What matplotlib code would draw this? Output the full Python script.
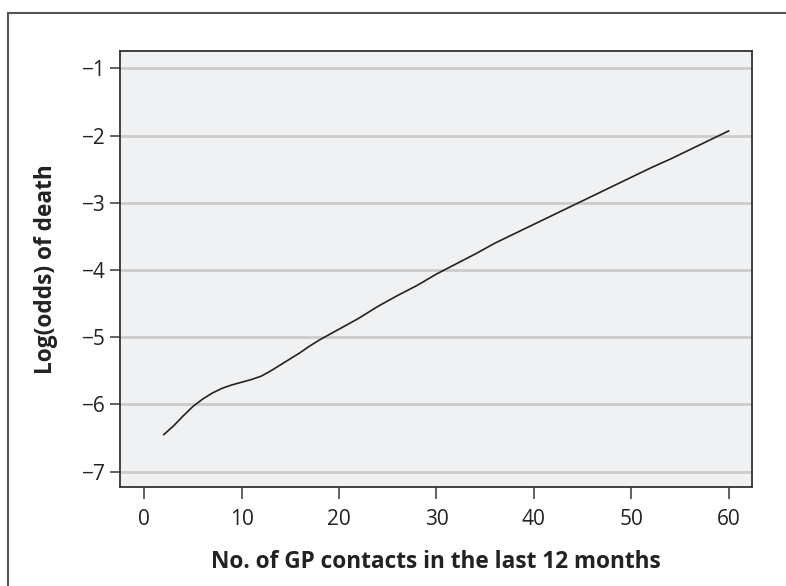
import matplotlib

matplotlib.use("Agg")
import matplotlib.pyplot as plt
from matplotlib.lines import Line2D

# Values
gp_contacts = [2, 3, 4, 5, 6, 7, 8, 9, 10, 11, 12, 13, 14, 15, 16, 17, 18, 19, 20,
               22, 24, 26, 28, 30, 32, 34, 36, 38, 40, 42, 44, 46, 48, 50, 52,
               54, 56, 58, 60]
log_odds = [-6.45, -6.32, -6.17, -6.03, -5.92, -5.83, -5.76, -5.71, -5.67, -5.63,
            -5.58, -5.50, -5.41, -5.32, -5.23, -5.13, -5.04, -4.96, -4.88,
            -4.72, -4.54, -4.38, -4.23, -4.06, -3.91, -3.76, -3.60, -3.46,
            -3.32, -3.18, -3.04, -2.90, -2.76, -2.62, -2.48, -2.35, -2.21,
            -2.07, -1.93]
x_ticks = [0, 10, 20, 30, 40, 50, 60]
y_ticks = [-7, -6, -5, -4, -3, -2, -1]

plt.rcParams["font.family"] = ["Open Sans", "DejaVu Sans"]

fig = plt.figure(figsize=(7.86, 5.86), dpi=100)
ax = fig.add_axes([120 / 786, 1 - 487 / 586, 632 / 786, 436 / 586])

ax.set_facecolor("#f0f1f3")
ax.plot(gp_contacts, log_odds, color="#222222", linewidth=1.2, zorder=3)

ax.set_xlim(-2.5, 62.4)
ax.set_ylim(-7.23, -0.74)
ax.set_xticks(x_ticks)
ax.set_yticks(y_ticks)
ax.set_yticklabels([f"\u2212{abs(v)}" for v in y_ticks])

ax.grid(axis="y", color="#cbcbcb", linewidth=2.0, zorder=1)
ax.set_axisbelow(True)

for spine in ax.spines.values():
    spine.set_color("#333333")
    spine.set_linewidth(1.3)

ax.tick_params(axis="x", length=8.5, width=1.3, color="#555555",
               labelsize=15, labelcolor="#222222", pad=7)
ax.tick_params(axis="y", length=7.5, width=1.3, color="#555555",
               labelsize=15, labelcolor="#222222", pad=3)

ax.set_xlabel("No. of GP contacts in the last 12 months", fontsize=16.3,
              fontweight="bold", color="#222222", labelpad=15)
ax.set_ylabel("Log(odds) of death", fontsize=16.3, fontweight="bold",
              color="#222222", labelpad=17)

# outer frame (only top and left visible in the crop)
fig.add_artist(Line2D([8 / 786, 8 / 786], [0, 1 - 13 / 586],
                      transform=fig.transFigure, color="#555555", linewidth=1.5))
fig.add_artist(Line2D([8 / 786, 1], [1 - 13 / 586, 1 - 13 / 586],
                      transform=fig.transFigure, color="#555555", linewidth=1.5))

fig.savefig("out.png", dpi=100)
